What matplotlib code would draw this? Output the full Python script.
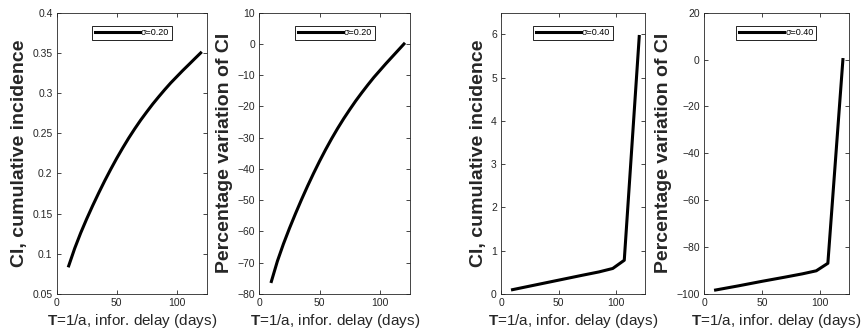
import matplotlib
matplotlib.use("Agg")
import matplotlib.pyplot as plt

plt.rcParams['font.family'] = ['Liberation Sans', 'DejaVu Sans']
plt.rcParams['mathtext.fontset'] = 'custom'
plt.rcParams['mathtext.rm'] = 'Liberation Sans'
plt.rcParams['mathtext.bf'] = 'Liberation Sans:bold'

# sigma = 0.20
T1 = [10, 15, 20, 25, 30, 35, 40, 45, 50, 55, 60, 65, 70, 75, 80, 85, 90, 95, 100, 105, 110, 115, 120]
CI1 = [0.085, 0.1068, 0.1260, 0.1435, 0.1600, 0.1757, 0.1908, 0.2051, 0.2188, 0.2317, 0.2440,
       0.2555, 0.2664, 0.2765, 0.2863, 0.2954, 0.3042, 0.3126, 0.3203, 0.3280, 0.3353, 0.3427, 0.350]
PV1 = [-76.0, -69.5, -64.0, -59.0, -54.3, -49.8, -45.5, -41.4, -37.5, -33.8, -30.3, -27.0,
       -23.9, -21.0, -18.2, -15.6, -13.1, -10.7, -8.5, -6.3, -4.2, -2.1, 0.0]

# sigma = 0.40
T2 = [10, 30, 50, 70, 85, 97, 107, 120]
CI2 = [0.10, 0.21, 0.32, 0.43, 0.51, 0.59, 0.78, 5.95]
PV2 = [-98.3, -96.5, -94.6, -92.8, -91.4, -90.1, -86.9, 0.0]

xlab = r'$\mathbf{T}$=1/a, infor. delay (days)'

fig = plt.figure(figsize=(8.63, 3.35), dpi=100)
W, H = 863.0, 335.0
boxes = [(56.7, 206.7), (259.3, 410.0), (501.0, 645.0), (704.0, 848.7)]
axes = [fig.add_axes([l / W, (335 - 294) / H, (r - l) / W, (294 - 12.7) / H]) for l, r in boxes]

panels = [
    (T1, CI1, 'σ=0.20', 'CI, cumulative incidence', (0.05, 0.4), [0.05, 0.1, 0.15, 0.2, 0.25, 0.3, 0.35, 0.4], ['0.05', '0.1', '0.15', '0.2', '0.25', '0.3', '0.35', '0.4']),
    (T1, PV1, 'σ=0.20', 'Percentage variation of CI', (-80, 10), list(range(-80, 11, 10)), None),
    (T2, CI2, 'σ=0.40', 'CI, cumulative incidence', (0, 6.5), [0, 1, 2, 3, 4, 5, 6], None),
    (T2, PV2, 'σ=0.40', 'Percentage variation of CI', (-100, 20), list(range(-100, 21, 20)), None),
]

for ax, (x, y, lab, ylab, ylim, yt, ytl) in zip(axes, panels):
    ax.plot(x, y, color='black', lw=2.2, label=lab, solid_joinstyle='round')
    ax.set_xlim(0, 125)
    ax.set_ylim(*ylim)
    ax.set_xticks([0, 50, 100])
    ax.set_yticks(yt)
    if ytl:
        ax.set_yticklabels(ytl)
    ax.tick_params(direction='in', top=True, right=True, labelsize=7.5,
                   colors='#262626', length=3, width=0.6, pad=3)
    for s in ax.spines.values():
        s.set_color('#262626')
        s.set_linewidth(0.6)
    ax.set_ylabel(ylab, fontsize=14, fontweight='bold', color='#262626', labelpad=3)
    ax.set_xlabel(xlab, fontsize=11, color='#262626', labelpad=3)
    leg = ax.legend(loc='upper center', fontsize=6.5, handlelength=5, fancybox=False,
                    framealpha=1, borderpad=0.3, handletextpad=0.1, bbox_to_anchor=(0.5, 0.97))
    leg.get_frame().set_edgecolor('black')
    leg.get_frame().set_linewidth(0.6)

fig.savefig('out.png', dpi=100)
